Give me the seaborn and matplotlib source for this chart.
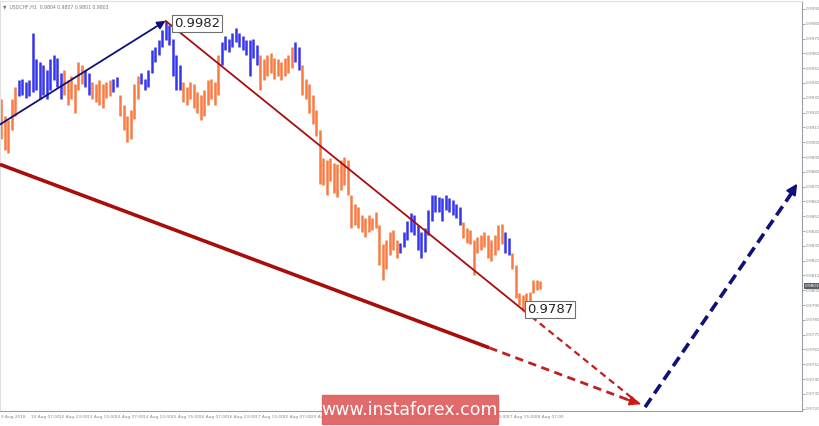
import numpy as np
import pandas as pd
import matplotlib
matplotlib.use("Agg")
import matplotlib.pyplot as plt
from matplotlib.patches import Rectangle
from matplotlib import transforms
import seaborn as sns

# USDCHF H1 - one bar every 2 hours, starting 9 Aug 2018 14:00
high = [0.9929, 0.9918, 0.9915, 0.9929, 0.9937, 0.9942, 0.9943, 0.9941, 0.9942, 0.9974,
        0.9956, 0.9954, 0.9952, 0.9949, 0.9956, 0.9959, 0.9957, 0.9947, 0.9949, 0.9942,
        0.9945, 0.9939, 0.9954, 0.9952, 0.9949, 0.9947, 0.9941, 0.9939, 0.9942, 0.9939,
        0.9941, 0.9942, 0.9943, 0.9944, 0.9932, 0.9925, 0.9918, 0.9922, 0.9939, 0.9945,
        0.9947, 0.9943, 0.9949, 0.9962, 0.9964, 0.9969, 0.9976, 0.9982, 0.9979, 0.9970,
        0.9959, 0.9952, 0.9941, 0.9937, 0.9941, 0.9939, 0.9934, 0.9932, 0.9935, 0.9942,
        0.9943, 0.9941, 0.9959, 0.9968, 0.9972, 0.9970, 0.9974, 0.9977, 0.9974, 0.9972,
        0.9969, 0.9969, 0.9970, 0.9966, 0.9959, 0.9956, 0.9959, 0.9960, 0.9957, 0.9956,
        0.9954, 0.9957, 0.9959, 0.9964, 0.9968, 0.9964, 0.9952, 0.9943, 0.9939, 0.9932,
        0.9922, 0.9908, 0.9889, 0.9888, 0.9889, 0.9886, 0.9885, 0.9888, 0.9890, 0.9888,
        0.9864, 0.9858, 0.9856, 0.9851, 0.9849, 0.9851, 0.9849, 0.9853, 0.9844, 0.9831,
        0.9834, 0.9839, 0.9841, 0.9834, 0.9832, 0.9839, 0.9847, 0.9852, 0.9851, 0.9844,
        0.9839, 0.9842, 0.9854, 0.9864, 0.9864, 0.9863, 0.9862, 0.9864, 0.9862, 0.9861,
        0.9858, 0.9856, 0.9846, 0.9842, 0.9841, 0.9834, 0.9836, 0.9837, 0.9839, 0.9837,
        0.9834, 0.9837, 0.9844, 0.9845, 0.9839, 0.9835, 0.9825, 0.9817, 0.9798, 0.9797,
        0.9798, 0.9799, 0.9807, 0.9807, 0.9806]
low = [0.9902, 0.9895, 0.9893, 0.9908, 0.9918, 0.9931, 0.9932, 0.9930, 0.9931, 0.9934,
       0.9935, 0.9929, 0.9932, 0.9929, 0.9935, 0.9942, 0.9937, 0.9929, 0.9932, 0.9925,
       0.9929, 0.9920, 0.9935, 0.9939, 0.9937, 0.9932, 0.9929, 0.9927, 0.9925, 0.9923,
       0.9930, 0.9931, 0.9934, 0.9937, 0.9918, 0.9908, 0.9900, 0.9902, 0.9916, 0.9929,
       0.9939, 0.9935, 0.9937, 0.9947, 0.9954, 0.9959, 0.9964, 0.9969, 0.9966, 0.9945,
       0.9935, 0.9935, 0.9927, 0.9925, 0.9929, 0.9923, 0.9920, 0.9915, 0.9918, 0.9925,
       0.9929, 0.9925, 0.9932, 0.9952, 0.9962, 0.9961, 0.9964, 0.9968, 0.9964, 0.9962,
       0.9959, 0.9945, 0.9957, 0.9952, 0.9935, 0.9942, 0.9945, 0.9947, 0.9943, 0.9945,
       0.9942, 0.9945, 0.9947, 0.9950, 0.9954, 0.9949, 0.9932, 0.9929, 0.9920, 0.9912,
       0.9904, 0.9872, 0.9871, 0.9864, 0.9874, 0.9866, 0.9863, 0.9868, 0.9871, 0.9864,
       0.9842, 0.9844, 0.9842, 0.9839, 0.9836, 0.9839, 0.9841, 0.9842, 0.9817, 0.9807,
       0.9814, 0.9824, 0.9827, 0.9822, 0.9825, 0.9829, 0.9834, 0.9839, 0.9837, 0.9827,
       0.9822, 0.9826, 0.9837, 0.9847, 0.9853, 0.9853, 0.9847, 0.9854, 0.9853, 0.9851,
       0.9849, 0.9844, 0.9835, 0.9832, 0.9831, 0.9810, 0.9825, 0.9827, 0.9829, 0.9822,
       0.9820, 0.9824, 0.9827, 0.9831, 0.9825, 0.9824, 0.9814, 0.9795, 0.9790, 0.9787,
       0.9790, 0.9791, 0.9798, 0.9800, 0.9801]
trend_runs = [("o", 5), ("b", 13), ("o", 6), ("b", 2), ("o", 6), ("b", 2), ("o", 6),
              ("b", 12), ("o", 11), ("b", 11), ("o", 10), ("b", 2), ("o", 28),
              ("b", 18), ("o", 12), ("b", 2), ("o", 9)]

tick_hours = [0, 17, 33, 49, 65, 81, 97, 113, 129, 145, 161, 177, 193, 209, 225,
              241, 257, 273, 289, 305]
tick_labels = ["9 Aug 2018", "10 Aug 07:00", "10 Aug 23:00", "13 Aug 15:00",
               "14 Aug 07:00", "14 Aug 23:00", "15 Aug 15:00", "16 Aug 07:00",
               "16 Aug 23:00", "17 Aug 15:00", "20 Aug 07:00", "20 Aug 23:00",
               "21 Aug 15:00", "22 Aug 07:00", "22 Aug 23:00", "23 Aug 15:00",
               "24 Aug 07:00", "24 Aug 23:00", "27 Aug 15:00", "28 Aug 07:00"]
price_ticks = np.round(np.arange(0.9720, 0.99905, 0.0010), 4)

# wave markup (hour, price)
wave_a = [(-0.6, 0.9912), (94, 0.9982)]
wave_b = [(94, 0.9982), (298, 0.9787)]
wave_target = (365, 0.9723)
big_trend_start = (-0.6, 0.9885)
forecast_end = (455, 0.9872)
last_price = 0.9803

trend = [t for t, n in trend_runs for _ in range(n)]
df = pd.DataFrame({"hour": np.arange(0, 2 * len(high), 2), "high": high,
                   "low": low, "trend": trend})

sns.set_style("white")
plt.rcParams["font.family"] = ["DejaVu Sans"]

fig = plt.figure(figsize=(8.2, 4.26), dpi=100)
ax = fig.add_axes([0.0, 15 / 426, 802 / 820, 410 / 426])

colors = {"b": "#3535ee", "o": "#fa7a42"}
ax.vlines(df["hour"], df["low"], df["high"], colors=df["trend"].map(colors),
          linewidth=1.8, zorder=2)

# wave lines
navy = "#10107a"
red = "#a80d0d"
ax.annotate("", xy=wave_a[1], xytext=wave_a[0],
            arrowprops=dict(arrowstyle="-|>", color=navy, lw=1.3,
                            mutation_scale=12, shrinkA=0, shrinkB=0), zorder=4)
wb = pd.DataFrame(wave_b, columns=["hour", "price"])
sns.lineplot(data=wb, x="hour", y="price", color=red, lw=1.3, ax=ax, zorder=4)

# continuation of wave line to target (dashed)
ax.plot([wave_b[1][0], wave_target[0]], [wave_b[1][1], wave_target[1]],
        color="#c02020", lw=1.6, ls=(0, (3, 2)), zorder=4)

# thick lower trend line
split_h = 279
split_p = np.interp(split_h, [big_trend_start[0], wave_target[0]],
                    [big_trend_start[1], wave_target[1]])
ax.plot([big_trend_start[0], split_h], [big_trend_start[1], split_p],
        color=red, lw=2.6, solid_capstyle="butt", zorder=4)
ax.plot([split_h, wave_target[0] - 6], [split_p, np.interp(wave_target[0] - 6,
        [big_trend_start[0], wave_target[0]], [big_trend_start[1], wave_target[1]])],
        color="#c02020", lw=2.0, ls=(0, (3, 2)), zorder=4)
ax.annotate("", xy=wave_target, xytext=(wave_target[0] - 8, wave_target[1] + 0.00035),
            arrowprops=dict(arrowstyle="-|>", color="#d01818", lw=1.5,
                            mutation_scale=14, shrinkA=0, shrinkB=0), zorder=5)

# forecast (navy dashed)
fs = (wave_target[0] + 3, wave_target[1] - 0.0002)
ax.plot([fs[0], forecast_end[0] - 3], [fs[1], forecast_end[1] - 0.0006],
        color=navy, lw=2.6, ls=(0, (3, 1.6)), zorder=4)
ax.annotate("", xy=forecast_end, xytext=(forecast_end[0] - 5, forecast_end[1] - 0.0009),
            arrowprops=dict(arrowstyle="-|>", color=navy, lw=1.5,
                            mutation_scale=16, shrinkA=0, shrinkB=0), zorder=5)

# price labels
box = dict(boxstyle="square,pad=0.15", fc="white", ec="#707070", lw=0.8)
ax.annotate("0.9982", xy=wave_a[1], xytext=(6, -2), textcoords="offset points",
            fontsize=9.5, va="center", ha="left", bbox=box, zorder=6)
ax.annotate("0.9787", xy=wave_b[1], xytext=(3, 0), textcoords="offset points",
            fontsize=9.5, va="center", ha="left", bbox=box, zorder=6)

# axes
ax.set_xlim(-0.6, 457.7)
ax.set_ylim(0.97184, 0.99954)
ax.yaxis.tick_right()
ax.set_yticks(price_ticks)
ax.set_yticklabels([f"{p:.4f}" for p in price_ticks])
ax.set_xticks(tick_hours)
ax.set_xticklabels(tick_labels, ha="left")
ax.tick_params(axis="both", labelsize=3.1, colors="#888888", length=2, width=0.5, pad=1)
ax.tick_params(axis="y", pad=1)
ax.set_xlabel("")
ax.set_ylabel("")
for s in ax.spines.values():
    s.set_color("#9aa0a8")
    s.set_linewidth(0.8)
ax.spines["top"].set_color("#e0e0e0")
ax.spines["left"].set_color("#e0e0e0")

# current price tag
tr = transforms.blended_transform_factory(ax.transAxes, ax.transData)
ax.text(1.003, last_price, f"{last_price:.4f}", transform=tr, fontsize=3.1,
        color="white", va="center", ha="left",
        bbox=dict(boxstyle="square,pad=0.2", fc="#5a5f66", ec="none"))

ax.text(0.004, 0.992, "\u25bc  USDCHF,H1  0.9804 0.9807 0.9801 0.9803",
        transform=ax.transAxes, fontsize=3.3, color="#777777", va="top", ha="left")

# watermark banner
fig.add_artist(Rectangle((322 / 820, 2 / 426), 176 / 820, 29 / 426,
                         transform=fig.transFigure, color="#df5f5f", alpha=0.93,
                         zorder=10))
fig.text(410 / 820, 16 / 426, "www.instaforex.com", color="white", fontsize=12.5,
         ha="center", va="center", zorder=11)

fig.savefig("out.png", dpi=100)
